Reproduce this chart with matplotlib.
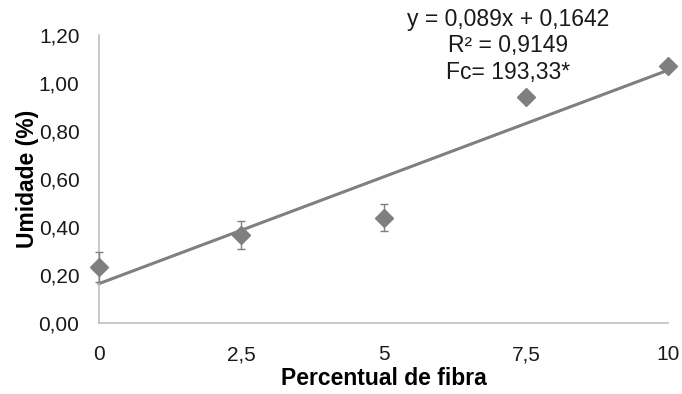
import numpy as np
import matplotlib.pyplot as plt
from matplotlib.ticker import FuncFormatter

plt.rcParams['font.family'] = ['Liberation Sans', 'DejaVu Sans']

# moisture content by fibre percentage
fibra = [0, 2.5, 5, 7.5, 10]
umidade = [0.235, 0.367, 0.439, 0.944, 1.073]
erro = [0.062, 0.060, 0.057, 0.0, 0.0]

# fitted regression
coef_a = 0.089
coef_b = 0.1642

cinza = '#7f7f7f'

fig = plt.figure(figsize=(6.82, 3.94), dpi=100)
ax = fig.add_axes([0.145, 0.180, 0.835, 0.731])

xs = np.array([fibra[0], fibra[-1]])
ax.plot(xs, coef_a * xs + coef_b, color=cinza, lw=2.2, zorder=2, clip_on=False)

ax.errorbar(fibra, umidade, yerr=erro, fmt='D', color=cinza, ms=9,
            ecolor=cinza, elinewidth=1.0, capsize=3.2, capthick=1.0,
            zorder=3, clip_on=False)

ax.set_xlim(0, 10)
ax.set_ylim(0, 1.2)
ax.set_xticks([0, 2.5, 5, 7.5, 10])
ax.set_yticks(np.arange(0, 1.21, 0.2))
fmt_x = lambda v, p: ('%g' % v).replace('.', ',')
fmt_y = lambda v, p: ('%.2f' % v).replace('.', ',')
ax.xaxis.set_major_formatter(FuncFormatter(fmt_x))
ax.yaxis.set_major_formatter(FuncFormatter(fmt_y))
ax.tick_params(length=0, labelsize=15, colors='#1a1a1a')
ax.tick_params(axis='x', pad=16)
ax.tick_params(axis='y', pad=14)

for s in ['top', 'right']:
    ax.spines[s].set_visible(False)
for s in ['left', 'bottom']:
    ax.spines[s].set_color('#bfbfbf')
    ax.spines[s].set_linewidth(1.2)

ax.set_xlabel('Percentual de fibra', fontsize=16.5, fontweight='bold', labelpad=2)
ax.set_ylabel('Umidade (%)', fontsize=16.5, fontweight='bold', labelpad=0)

ax.text(0.745, 0.98, 'y = 0,089x + 0,1642\nR² = 0,9149\nFc= 193,33*',
        transform=fig.transFigure, ha='center', va='top', fontsize=16.5,
        linespacing=1.2, color='#1a1a1a')

fig.savefig('out.png', dpi=100)
